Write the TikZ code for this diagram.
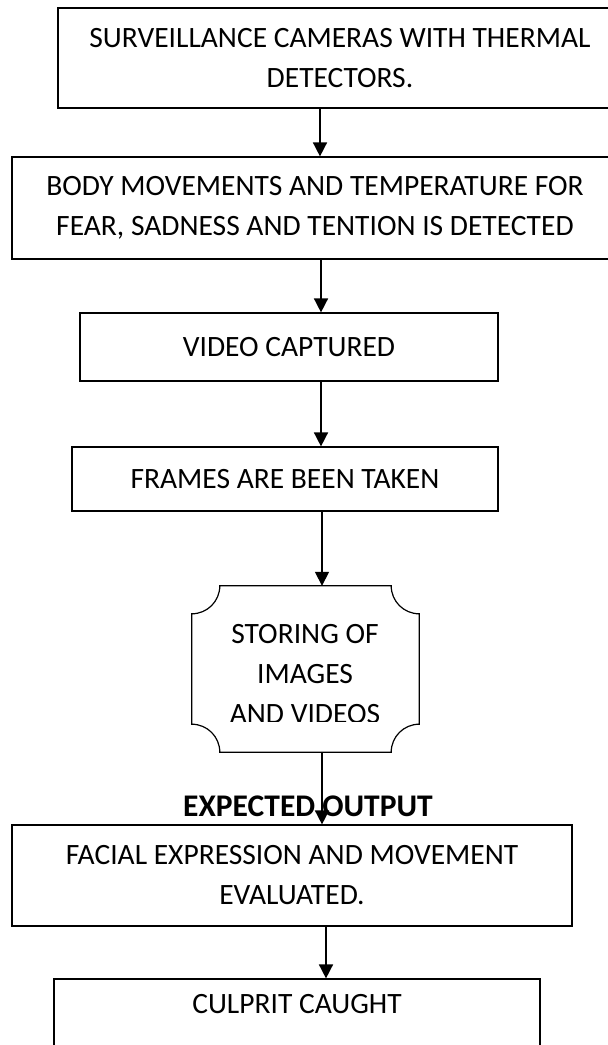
\documentclass[tikz,border=0pt]{standalone}
\usepackage{fontspec}
\setmainfont{Carlito}
\usetikzlibrary{arrows.meta}
\begin{document}
\begin{tikzpicture}[x=1pt,y=1pt,
  txt/.style={font=\fontsize{29.5}{40}\selectfont, align=center, inner sep=0pt},
  box/.style={txt, draw, line width=1.2pt, rectangle},
  arr/.style={line width=1.6pt, -{Triangle[width=14pt,length=14pt]}},
  shapeline/.style={line width=1.2pt}]
\useasboundingbox (0,0) rectangle (608,-1045);
\clip (0,0) rectangle (608,-1045);
\node[box, minimum width=564pt, minimum height=100pt] (b1) at (340,-58) {SURVEILLANCE CAMERAS WITH THERMAL\\DETECTORS.};
\node[box, minimum width=606pt, minimum height=102pt] (b2) at (315,-208) {BODY MOVEMENTS AND TEMPERATURE FOR\\FEAR, SADNESS AND TENTION IS DETECTED};
\node[box, minimum width=418pt, minimum height=68pt] (b3) at (289,-347) {VIDEO CAPTURED};
\node[box, minimum width=426pt, minimum height=64pt] (b4) at (285,-479) {FRAMES ARE BEEN TAKEN};
\node[inner sep=0pt, minimum width=227pt, minimum height=166pt] (st) at (305.5,-669) {};
\draw[shapeline] ([xshift=28pt]st.north west) -- ([xshift=-28pt]st.north east)
  arc[start angle=180,end angle=270,radius=28pt] -- ([yshift=28pt]st.south east)
  arc[start angle=90,end angle=180,radius=28pt] -- ([xshift=28pt]st.south west)
  arc[start angle=0,end angle=90,radius=28pt] -- ([yshift=-28pt]st.north west)
  arc[start angle=270,end angle=360,radius=28pt] -- cycle;
\begin{scope}
  \clip (192,-600) rectangle (419,-721);
  \node[txt] (sttext) at (305,-674) {STORING OF\\IMAGES\\AND VIDEOS};
\end{scope}
\node[txt, font=\fontsize{31.5}{40}\selectfont\bfseries] (exp) at (308,-806) {EXPECTED OUTPUT};
\node[box, minimum width=560pt, minimum height=101pt] (b5) at (292,-875.5) {FACIAL EXPRESSION AND MOVEMENT\\EVALUATED.};
\node[box, minimum width=486pt, minimum height=101pt] (b6) at (297,-1029.5) {CULPRIT CAUGHT\\\strut};
\coordinate (xa) at (320,0);
\coordinate (xb) at (321,0);
\coordinate (xc) at (322,0);
\coordinate (xd) at (326,0);
\draw[arr] (b1.south -| xa) -- (b2.north -| xa);
\draw[arr] (b2.south -| xb) -- (b3.north -| xb);
\draw[arr] (b3.south -| xb) -- (b4.north -| xb);
\draw[arr] (b4.south -| xc) -- (st.north -| xc);
\draw[arr] (st.south -| xc) -- (b5.north -| xc);
\draw[arr] (b5.south -| xd) -- (b6.north -| xd);
\end{tikzpicture}
\end{document}
